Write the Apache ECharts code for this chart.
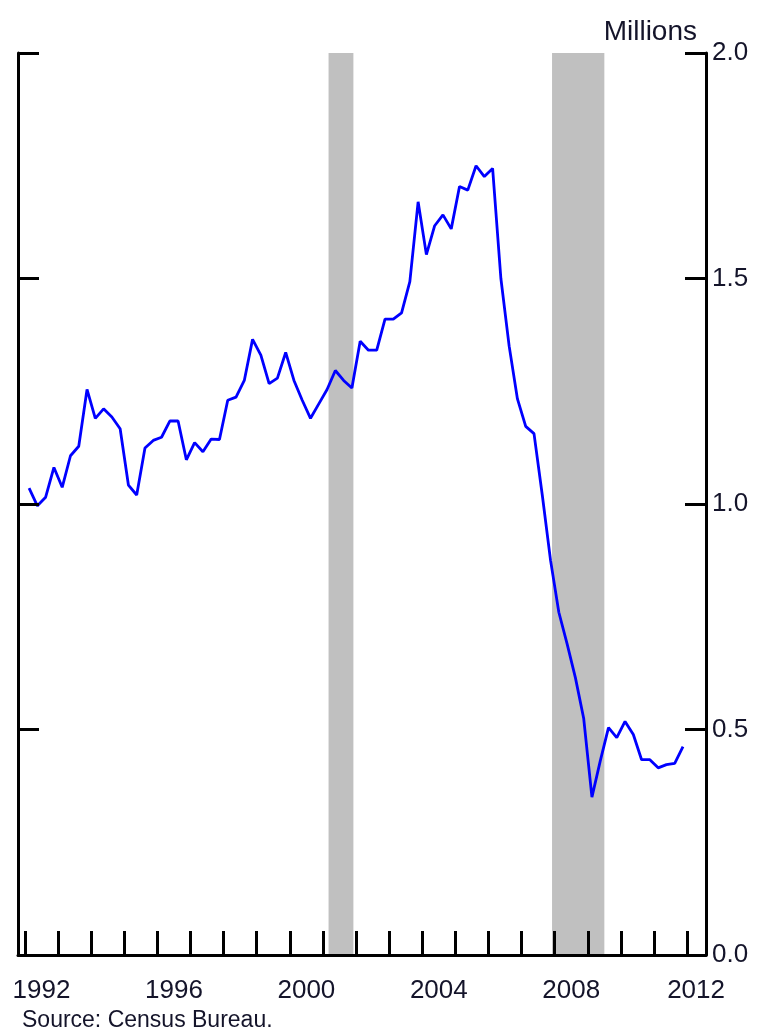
<!DOCTYPE html>
<html>
<head>
<meta charset="utf-8">
<script src="https://cdn.jsdelivr.net/npm/echarts@6/dist/echarts.min.js"></script>
<style>
  html, body { margin: 0; padding: 0; background: #fff; }
  #chart { width: 763px; height: 1029px; }
</style>
</head>
<body>
<div id="chart"></div>
<script>
  // single-family housing starts, quarterly, millions (1992Q1 - 2011Q4)
  const firstYear = 1992
  const starts = [
    1.035, 0.996, 1.015, 1.081,
    1.037, 1.107, 1.128, 1.254,
    1.190, 1.211, 1.193, 1.167,
    1.042, 1.020, 1.124, 1.141,
    1.148, 1.184, 1.184, 1.098,
    1.136, 1.116, 1.144, 1.143,
    1.230, 1.237, 1.274, 1.365,
    1.330, 1.267, 1.279, 1.336,
    1.274, 1.230, 1.190, 1.222,
    1.254, 1.296, 1.274, 1.257,
    1.361, 1.341, 1.341, 1.410,
    1.410, 1.424, 1.493, 1.670,
    1.553, 1.617, 1.641, 1.610,
    1.704, 1.696, 1.750, 1.726,
    1.744, 1.500, 1.350, 1.233,
    1.172, 1.156, 1.020, 0.875,
    0.760, 0.690, 0.615, 0.525,
    0.350, 0.430, 0.504, 0.482,
    0.518, 0.489, 0.433, 0.433,
    0.415, 0.422, 0.425, 0.462
  ]
  // recessions (decimal years)
  const recessions = [
    [2001.17, 2001.92],
    [2007.92, 2009.50]
  ]
  const tickYears = []
  for (let y = 1992; y <= 2012; y++) tickYears.push(y)
  const labelYears = [1992, 1996, 2000, 2004, 2008, 2012]
  const yTicks = ['0.0', '0.5', '1.0', '1.5', '2.0']

  const xMin = 1991.79
  const xMax = 2012.57

  let lineData = starts.map((v, i) => [firstYear + (i + 0.5) / 4, v])
  // labels sit in the middle of the year, last one pulled in a bit
  let labelPos = labelYears.map(y => Math.min(y + 0.5, 2012.27))

  const font = 'Liberation Sans, Arial, sans-serif'
  const ink = '#14142a'

  let myChart = echarts.init(document.getElementById('chart'))
  myChart.setOption({
    animation: false,
    title: [
      {
        text: 'Millions',
        right: 61,
        top: 13,
        textStyle: { fontFamily: font, fontSize: 28, fontWeight: 'normal', color: ink }
      },
      {
        text: 'Source: Census Bureau.',
        left: 17,
        top: 1004,
        textStyle: { fontFamily: font, fontSize: 23, fontWeight: 'normal', color: ink }
      }
    ],
    grid: { left: 18, right: 57, top: 53, bottom: 74 },
    xAxis: {
      type: 'value',
      min: xMin,
      max: xMax,
      z: 5,
      axisLine: { show: true, lineStyle: { color: '#000', width: 3 } },
      axisTick: {
        show: true,
        inside: true,
        length: 24,
        customValues: tickYears,
        lineStyle: { color: '#000', width: 3 }
      },
      axisLabel: {
        customValues: labelPos,
        formatter: v => String(Math.floor(v)),
        margin: 23,
        fontFamily: font,
        fontSize: 26,
        color: ink
      },
      splitLine: { show: false }
    },
    yAxis: [
      {
        type: 'value',
        position: 'left',
        min: 0,
        max: 2,
        interval: 0.5,
        z: 5,
        axisLine: { show: true, lineStyle: { color: '#000', width: 3 } },
        axisTick: { show: true, inside: true, length: 21, lineStyle: { color: '#000', width: 3 } },
        axisLabel: { show: false },
        splitLine: { show: false }
      },
      {
        type: 'value',
        position: 'right',
        min: 0,
        max: 2,
        interval: 0.5,
        z: 5,
        axisLine: { show: true, lineStyle: { color: '#000', width: 3 } },
        axisTick: { show: true, inside: true, length: 21, lineStyle: { color: '#000', width: 3 } },
        axisLabel: {
          margin: 6,
          formatter: v => yTicks[Math.round(v * 2)],
          fontFamily: font,
          fontSize: 26,
          color: ink
        },
        splitLine: { show: false }
      }
    ],
    series: [
      {
        name: 'recessions',
        type: 'line',
        data: [],
        silent: true,
        z: 1,
        markArea: {
          silent: true,
          itemStyle: { color: '#c0c0c0' },
          data: recessions.map(r => [{ xAxis: r[0] }, { xAxis: r[1] }])
        }
      },
      {
        name: 'starts',
        type: 'line',
        data: lineData,
        symbol: 'none',
        z: 3,
        lineStyle: { color: '#0000ff', width: 2.8 }
      }
    ]
  })
</script>
</body>
</html>
